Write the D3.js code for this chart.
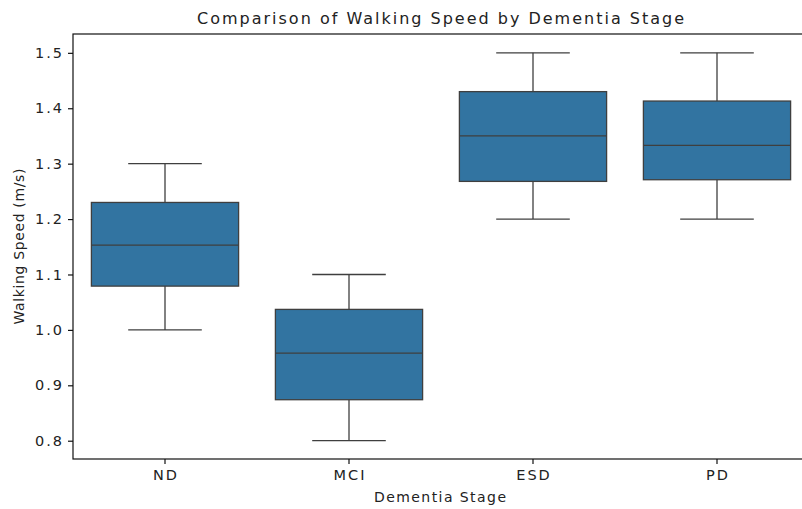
<!DOCTYPE html>
<html>
<head>
<meta charset="utf-8">
<script src="https://cdn.jsdelivr.net/npm/d3@7"></script>
<style>
  body { margin: 0; background: #fff; }
  text { font-family: "DejaVu Sans", sans-serif; fill: #222; }
</style>
</head>
<body>
<div id="chart"></div>
<script>
var stages = ["ND", "MCI", "ESD", "PD"];
var whiskerLow = [1.00, 0.80, 1.20, 1.20];
var q1 = [1.079, 0.874, 1.268, 1.271];
var median = [1.153, 0.958, 1.350, 1.333];
var q3 = [1.230, 1.037, 1.430, 1.413];
var whiskerHigh = [1.30, 1.10, 1.50, 1.50];
var yTicks = [0.8, 0.9, 1.0, 1.1, 1.2, 1.3, 1.4, 1.5];

var width = 802,
    height = 509,
    margin = {top: 34, right: -7, bottom: 50, left: 73};

var svg = d3.select("#chart").append("svg")
    .attr("width", width)
    .attr("height", height);

var x = d3.scaleBand()
    .domain(stages)
    .range([margin.left, width - margin.right])
    .paddingInner(0)
    .paddingOuter(0);

var y = d3.scaleLinear()
    .domain([0.767, 1.534])
    .range([height - margin.bottom, margin.top]);

var boxW = x.bandwidth() * 0.8,
    capW = boxW / 2,
    lineCol = "#3f3f3f";

var g = svg.append("g");

stages.forEach(function(s, i) {
    var cx = x(s) + x.bandwidth() / 2;
    // whiskers
    g.append("line")
        .attr("x1", cx).attr("x2", cx)
        .attr("y1", y(whiskerHigh[i])).attr("y2", y(q3[i]))
        .attr("stroke", lineCol).attr("stroke-width", 1.3);
    g.append("line")
        .attr("x1", cx).attr("x2", cx)
        .attr("y1", y(q1[i])).attr("y2", y(whiskerLow[i]))
        .attr("stroke", lineCol).attr("stroke-width", 1.3);
    // caps
    [whiskerHigh[i], whiskerLow[i]].forEach(function(v) {
        g.append("line")
            .attr("x1", cx - capW / 2).attr("x2", cx + capW / 2)
            .attr("y1", y(v)).attr("y2", y(v))
            .attr("stroke", lineCol).attr("stroke-width", 1.3);
    });
    // box + median
    g.append("rect")
        .attr("x", cx - boxW / 2)
        .attr("y", y(q3[i]))
        .attr("width", boxW)
        .attr("height", y(q1[i]) - y(q3[i]))
        .attr("fill", "#3274a1")
        .attr("stroke", lineCol)
        .attr("stroke-width", 1.3);
    g.append("line")
        .attr("x1", cx - boxW / 2).attr("x2", cx + boxW / 2)
        .attr("y1", y(median[i])).attr("y2", y(median[i]))
        .attr("stroke", lineCol).attr("stroke-width", 1.3);
});

// spines
svg.append("rect")
    .attr("x", margin.left)
    .attr("y", margin.top)
    .attr("width", width - margin.right - margin.left)
    .attr("height", height - margin.bottom - margin.top)
    .attr("fill", "none")
    .attr("stroke", "#111")
    .attr("stroke-width", 1.2);

var xAxis = svg.append("g")
    .attr("transform", "translate(0," + (height - margin.bottom) + ")")
    .call(d3.axisBottom(x).tickSize(5).tickPadding(6));

var yAxis = svg.append("g")
    .attr("transform", "translate(" + margin.left + ",0)")
    .call(d3.axisLeft(y).tickValues(yTicks).tickFormat(d3.format(".1f")).tickSize(5).tickPadding(4));

[xAxis, yAxis].forEach(function(a) {
    a.select(".domain").remove();
    a.selectAll(".tick line").attr("stroke", "#111").attr("stroke-width", 1.2);
    a.selectAll(".tick text")
        .attr("font-family", "DejaVu Sans")
        .attr("font-size", 14.5)
        .attr("letter-spacing", 2)
        .attr("fill", "#222");
});
xAxis.selectAll(".tick text").attr("dx", 1);

svg.append("text")
    .attr("x", 440.5)
    .attr("y", 24)
    .attr("text-anchor", "middle")
    .attr("font-size", 16)
    .attr("textLength", 487)
    .attr("lengthAdjust", "spacing")
    .text("Comparison of Walking Speed by Dementia Stage");

svg.append("text")
    .attr("x", 440)
    .attr("y", 502)
    .attr("text-anchor", "middle")
    .attr("font-size", 14)
    .attr("textLength", 132)
    .attr("lengthAdjust", "spacing")
    .text("Dementia Stage");

svg.append("text")
    .attr("transform", "translate(24," + ((margin.top + height - margin.bottom) / 2) + ") rotate(-90)")
    .attr("text-anchor", "middle")
    .attr("font-size", 14)
    .attr("textLength", 156)
    .attr("lengthAdjust", "spacing")
    .text("Walking Speed (m/s)");
</script>
</body>
</html>
